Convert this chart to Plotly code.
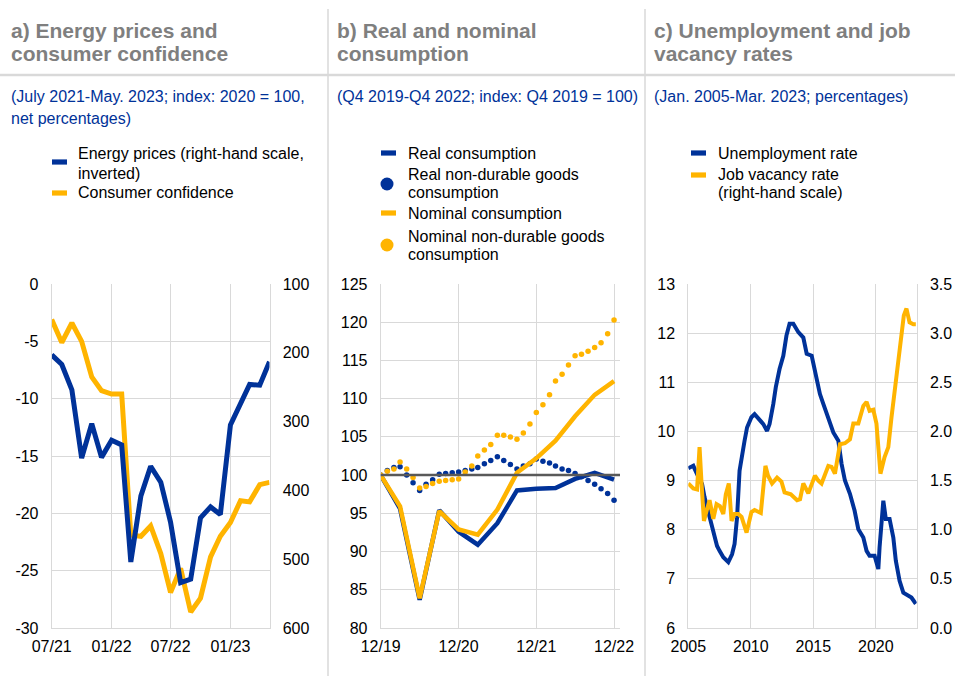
import plotly.graph_objects as go

W, H = 955, 676
BLUE = "#003299"
YELLOW = "#FFB400"
GRID = "#d9d9d9"
FONT = "Liberation Sans, Arial, sans-serif"

# ---------------- Panel a data ----------------
a_dates = ["2021-07-01", "2021-08-01", "2021-09-01", "2021-10-01", "2021-11-01", "2021-12-01",
           "2022-01-01", "2022-02-01", "2022-03-01", "2022-04-01", "2022-05-01", "2022-06-01",
           "2022-07-01", "2022-08-01", "2022-09-01", "2022-10-01", "2022-11-01", "2022-12-01",
           "2023-01-01", "2023-02-01", "2023-03-01", "2023-04-01", "2023-05-01"]
consumer_confidence = [-3.1, -5.1, -3.4, -5.0, -8.1, -9.3, -9.6, -9.6, -21.9, -22.0, -21.1, -23.5,
                       -26.9, -24.8, -28.6, -27.4, -23.8, -22.0, -20.8, -18.9, -19.0, -17.5, -17.3]
energy_prices = [203, 217, 254, 353, 303, 352, 327, 334, 504, 408, 365, 388,
                 446, 534, 529, 440, 424, 435, 305, 276, 246, 247, 213]
a_left_ticks = [0, -5, -10, -15, -20, -25, -30]
a_left_labels = ["0", "-5", "-10", "-15", "-20", "-25", "-30"]
a_right_ticks = [100, 200, 300, 400, 500, 600]
a_x_ticks = ["2021-07-01", "2022-01-01", "2022-07-01", "2023-01-01"]

# ---------------- Panel b data ----------------
b_quarters = ["2019-12-01", "2020-03-01", "2020-06-01", "2020-09-01", "2020-12-01", "2021-03-01",
              "2021-06-01", "2021-09-01", "2021-12-01", "2022-03-01", "2022-06-01", "2022-09-01",
              "2022-12-01"]
real_consumption = [100.0, 95.6, 83.7, 95.4, 92.6, 90.9, 93.7, 98.0, 98.2, 98.3, 99.5, 100.3, 99.4]
nominal_consumption = [100.0, 95.9, 83.9, 95.3, 92.9, 92.2, 95.5, 100.3, 102.2, 104.5, 107.7, 110.5, 112.3]

b_months = ["2019-12-01", "2020-01-01", "2020-02-01", "2020-03-01", "2020-04-01", "2020-05-01",
            "2020-06-01", "2020-07-01", "2020-08-01", "2020-09-01", "2020-10-01", "2020-11-01",
            "2020-12-01", "2021-01-01", "2021-02-01", "2021-03-01", "2021-04-01", "2021-05-01",
            "2021-06-01", "2021-07-01", "2021-08-01", "2021-09-01", "2021-10-01", "2021-11-01",
            "2021-12-01", "2022-01-01", "2022-02-01", "2022-03-01", "2022-04-01", "2022-05-01",
            "2022-06-01", "2022-07-01", "2022-08-01", "2022-09-01", "2022-10-01", "2022-11-01",
            "2022-12-01"]
real_nondurable = [100.0, 100.6, 101.0, 101.1, 100.0, 99.0, 98.0, 98.8, 99.4, 100.1, 100.2, 100.3,
                   100.4, 100.6, 100.8, 101.0, 101.5, 101.9, 102.4, 101.9, 101.4, 100.8, 101.2, 101.5,
                   102.1, 101.8, 101.6, 101.2, 100.8, 100.6, 100.2, 99.8, 99.3, 98.8, 98.2, 97.6,
                   96.7]
nominal_nondurable = [100.0, 100.5, 100.8, 101.7, 100.8, 99.7, 98.3, 98.5, 98.9, 99.2, 99.3, 99.4,
                      99.5, 100.4, 101.2, 102.5, 103.3, 104.0, 105.2, 105.2, 105.0, 104.7, 105.5, 106.7,
                      108.2, 109.2, 110.5, 112.3, 113.2, 114.4, 115.6, 115.8, 116.2, 116.7, 117.3, 118.5,
                      120.3]
b_reference = 100
b_x_ticks = ["2019-12-01", "2020-12-01", "2021-12-01", "2022-12-01"]

# ---------------- Panel c data ----------------
unemp_year = [2005.0, 2005.4, 2005.7, 2006.1, 2006.3, 2006.6, 2007.0, 2007.3, 2007.5, 2007.8,
              2008.2, 2008.5, 2008.7, 2008.9, 2009.1, 2009.3, 2009.5, 2009.7, 2010.05, 2010.3,
              2010.6, 2011.0, 2011.3, 2011.5, 2011.8, 2012.0, 2012.3, 2012.6, 2012.85, 2013.1,
              2013.4, 2013.8, 2014.2, 2014.47, 2014.87, 2015.27, 2015.53, 2015.8, 2016.2, 2016.6,
              2017.0, 2017.26, 2017.53, 2017.93, 2018.3, 2018.6, 2019.0, 2019.26, 2019.5, 2019.9,
              2020.2, 2020.3, 2020.6, 2020.8, 2021.1, 2021.4, 2021.6, 2021.9, 2022.2, 2022.6,
              2022.85, 2023.2]
unemployment_rate = [9.25, 9.30, 9.13, 8.93, 8.66, 8.35, 8.01, 7.67, 7.57, 7.44,
                     7.34, 7.50, 7.71, 8.25, 9.20, 9.57, 9.81, 10.08, 10.29, 10.35,
                     10.25, 10.15, 10.01, 10.15, 10.56, 10.90, 11.27, 11.54, 11.95, 12.19,
                     12.19, 12.02, 11.91, 11.58, 11.54, 11.10, 10.76, 10.56, 10.29, 9.98,
                     9.81, 9.34, 9.00, 8.73, 8.39, 8.01, 7.84, 7.57, 7.47, 7.47,
                     7.20, 7.64, 8.59, 8.22, 8.22, 7.84, 7.37, 6.96, 6.72, 6.66,
                     6.62, 6.49]
vac_year = [2005.0, 2005.4, 2005.7, 2005.9, 2006.06, 2006.25, 2006.46, 2006.7, 2007.0, 2007.26,
            2007.53, 2007.8, 2008.0, 2008.24, 2008.46, 2008.7, 2009.0, 2009.26, 2009.66, 2010.05,
            2010.3, 2010.8, 2011.17, 2011.38, 2011.7, 2012.1, 2012.45, 2012.7, 2013.2, 2013.7,
            2013.94, 2014.2, 2014.6, 2015.13, 2015.4, 2015.66, 2016.2, 2016.46, 2016.73, 2017.13,
            2017.53, 2017.93, 2018.2, 2018.6, 2019.0, 2019.26, 2019.5, 2019.8, 2020.05, 2020.2,
            2020.37, 2020.7, 2021.0, 2021.25, 2021.5, 2021.8, 2022.05, 2022.24, 2022.45, 2022.7,
            2023.0, 2023.2]
job_vacancy_rate = [1.47, 1.42, 1.41, 1.84, 1.47, 1.09, 1.19, 1.30, 1.11, 1.26,
                    1.24, 1.16, 1.36, 1.47, 1.09, 1.16, 1.16, 1.13, 0.97, 1.18,
                    1.20, 1.17, 1.65, 1.55, 1.47, 1.53, 1.49, 1.38, 1.36, 1.30,
                    1.31, 1.47, 1.37, 1.55, 1.50, 1.47, 1.65, 1.64, 1.57, 1.87,
                    1.88, 1.92, 2.08, 2.08, 2.26, 2.30, 2.21, 2.22, 2.08, 1.87,
                    1.57, 1.74, 1.84, 2.14, 2.41, 2.69, 2.99, 3.18, 3.25, 3.11,
                    3.09, 3.09]
c_x_ticks = [2005, 2010, 2015, 2020]

# ---------------- Figure ----------------
def px(x):
    return x / W


def py(y):
    return 1 - y / H


fig = go.Figure()

# Panel a
fig.add_trace(go.Scatter(x=a_dates, y=consumer_confidence, mode="lines", name="Consumer confidence",
                         line=dict(color=YELLOW, width=5), xaxis="x", yaxis="y", showlegend=False))
fig.add_trace(go.Scatter(x=a_dates, y=energy_prices, mode="lines",
                         name="Energy prices (right-hand scale, inverted)",
                         line=dict(color=BLUE, width=5), xaxis="x", yaxis="y2", showlegend=False))

# Panel b
fig.add_trace(go.Scatter(x=b_quarters, y=real_consumption, mode="lines", name="Real consumption",
                         line=dict(color=BLUE, width=4.5), xaxis="x2", yaxis="y3", showlegend=False))
fig.add_trace(go.Scatter(x=b_months, y=real_nondurable, mode="markers",
                         name="Real non-durable goods consumption",
                         marker=dict(color=BLUE, size=5.5), xaxis="x2", yaxis="y3", showlegend=False))
fig.add_trace(go.Scatter(x=b_quarters, y=nominal_consumption, mode="lines", name="Nominal consumption",
                         line=dict(color=YELLOW, width=4.5), xaxis="x2", yaxis="y3", showlegend=False))
fig.add_trace(go.Scatter(x=b_months, y=nominal_nondurable, mode="markers",
                         name="Nominal non-durable goods consumption",
                         marker=dict(color=YELLOW, size=5.5), xaxis="x2", yaxis="y3", showlegend=False))

# Panel c
fig.add_trace(go.Scatter(x=unemp_year, y=unemployment_rate, mode="lines", name="Unemployment rate",
                         line=dict(color=BLUE, width=4), xaxis="x3", yaxis="y4", showlegend=False))
fig.add_trace(go.Scatter(x=vac_year, y=job_vacancy_rate, mode="lines",
                         name="Job vacancy rate (right-hand scale)",
                         line=dict(color=YELLOW, width=4), xaxis="x3", yaxis="y5", showlegend=False))

tickfont = dict(family=FONT, size=16, color="#000000")
ydom = [py(628), py(284)]

common_x = dict(showgrid=True, gridcolor=GRID, gridwidth=1, showline=True, linecolor=GRID,
                linewidth=1, ticks="", tickfont=tickfont, ticklabelstandoff=4, zeroline=False,
                automargin=False)
common_y = dict(showgrid=True, gridcolor=GRID, gridwidth=1, showline=True, linecolor=GRID,
                linewidth=1, ticks="", tickfont=tickfont, ticklabelstandoff=9, zeroline=False,
                automargin=False)
right_y = dict(showgrid=False, showline=True, linecolor=GRID, linewidth=1, ticks="",
               tickfont=tickfont, ticklabelstandoff=9, zeroline=False, automargin=False)

shapes = []
# reference line at 100 in panel b
shapes.append(dict(type="line", xref="x2 domain", yref="y3", x0=0, x1=1,
                   y0=b_reference, y1=b_reference, line=dict(color="#595959", width=2.5)))
# panel separators
for sx in (328, 645):
    shapes.append(dict(type="line", xref="paper", yref="paper", x0=px(sx), x1=px(sx),
                       y0=py(9), y1=0, line=dict(color=GRID, width=1.5)))
shapes.append(dict(type="line", xref="paper", yref="paper", x0=0, x1=1, y0=py(75), y1=py(75),
                   line=dict(color=GRID, width=2.5)))

annotations = []


def text(x, y, s, size=16, color="#000000"):
    annotations.append(dict(xref="paper", yref="paper", x=px(x), y=py(y), text=s, showarrow=False,
                            xanchor="left", yanchor="middle",
                            font=dict(family=FONT, size=size, color=color)))


TITLE = "#7f7f7f"
# titles
text(9, 30, "<b>a) Energy prices and</b>", 21, TITLE)
text(9, 53, "<b>consumer confidence</b>", 21, TITLE)
text(335, 30, "<b>b) Real and nominal</b>", 21, TITLE)
text(335, 53, "<b>consumption</b>", 21, TITLE)
text(652, 30, "<b>c) Unemployment and job</b>", 21, TITLE)
text(652, 53, "<b>vacancy rates</b>", 21, TITLE)
# subtitles
text(9, 96, "(July 2021-May. 2023; index: 2020 = 100,", 16, BLUE)
text(9, 118, "net percentages)", 16, BLUE)
text(335, 96, "(Q4 2019-Q4 2022; index: Q4 2019 = 100)", 16, BLUE)
text(652, 96, "(Jan. 2005-Mar. 2023; percentages)", 16, BLUE)


def patch(x0, yc, color):
    shapes.append(dict(type="rect", xref="paper", yref="paper", x0=px(x0), x1=px(x0 + 15),
                       y0=py(yc + 2.6), y1=py(yc - 2.6), fillcolor=color, line=dict(width=0)))


def dot(xc, yc, color):
    shapes.append(dict(type="circle", xref="paper", yref="paper", x0=px(xc - 6.5), x1=px(xc + 6.5),
                       y0=py(yc + 6.5), y1=py(yc - 6.5), fillcolor=color, line=dict(width=0)))


# legend a
patch(52, 162, BLUE)
text(76, 153, "Energy prices (right-hand scale,")
text(76, 173, "inverted)")
patch(52, 193, YELLOW)
text(76, 193, "Consumer confidence")
# legend b
patch(381, 153, BLUE)
text(406, 153, "Real consumption")
dot(387, 184, BLUE)
text(406, 175, "Real non-durable goods")
text(406, 193, "consumption")
patch(381, 213, YELLOW)
text(406, 213, "Nominal consumption")
dot(387, 245, YELLOW)
text(406, 236, "Nominal non-durable goods")
text(406, 254, "consumption")
# legend c
patch(691, 153, BLUE)
text(716, 153, "Unemployment rate")
patch(691, 175, YELLOW)
text(716, 175, "Job vacancy rate")
text(716, 193, "(right-hand scale)")

fig.update_layout(
    width=W, height=H, autosize=False,
    margin=dict(l=0, r=0, t=0, b=0, autoexpand=False),
    paper_bgcolor="white", plot_bgcolor="white",
    font=dict(family=FONT, size=16, color="#000000"),
    showlegend=False,
    xaxis=dict(domain=[px(51.7), px(269.5)], anchor="y", type="date",
               range=[a_dates[0], a_dates[-1]], tickvals=a_x_ticks,
               tickformat="%m/%y", **common_x),
    yaxis=dict(domain=ydom, anchor="x", range=[-30, 0], tickvals=a_left_ticks,
               ticktext=a_left_labels, **common_y),
    yaxis2=dict(domain=ydom, anchor="x", overlaying="y", side="right", range=[600, 100],
                tickvals=a_right_ticks, **right_y),
    xaxis2=dict(domain=[px(380.7), px(620)], anchor="y3", type="date",
                range=["2019-12-01", "2022-12-29"], tickvals=b_x_ticks,
                tickformat="%m/%y", **common_x),
    yaxis3=dict(domain=ydom, anchor="x2", range=[80, 125], dtick=5, **common_y),
    xaxis3=dict(domain=[px(688.3), px(916.7)], anchor="y4", range=[2005, 2023.27],
                tickvals=c_x_ticks, **common_x),
    yaxis4=dict(domain=ydom, anchor="x3", range=[6, 13], dtick=1, **common_y),
    yaxis5=dict(domain=ydom, anchor="x3", overlaying="y4", side="right", range=[0, 3.5],
                dtick=0.5, tickformat=".1f", **right_y),
    shapes=shapes,
    annotations=annotations,
)

fig.write_html("out.html", config={"displayModeBar": False},
               post_script="document.body.style.margin='0px';")
